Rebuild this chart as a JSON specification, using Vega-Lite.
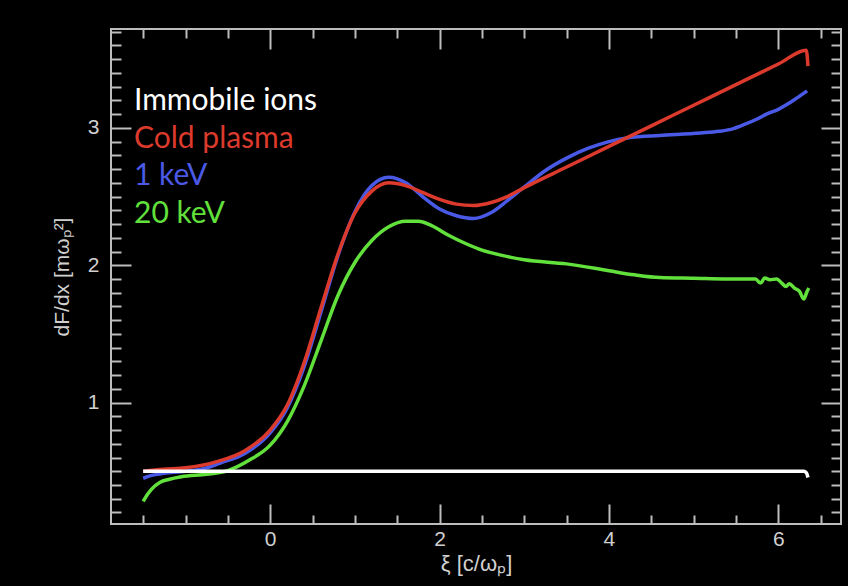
{
  "$schema": "https://vega.github.io/schema/vega-lite/v6.json",
  "width": 730,
  "height": 495,
  "autosize": {"type": "none"},
  "padding": {"left": 111, "top": 29, "right": 7, "bottom": 62},
  "background": "#000000",
  "config": {
    "view": {"stroke": "#bdbdbd", "strokeWidth": 2},
    "axis": {"grid": false, "domain": false, "tickColor": "#bdbdbd", "tickWidth": 2, "labelColor": "#d0d0d0", "titleColor": "#d0d0d0", "labelFont": "Liberation Sans", "titleFont": "Liberation Sans", "titleFontWeight": "normal"}
  },
  "data": {"values": [
    {"series": "20 keV", "x": -1.5, "y": 0.28},
    {"series": "20 keV", "x": -1.45, "y": 0.33},
    {"series": "20 keV", "x": -1.4, "y": 0.37},
    {"series": "20 keV", "x": -1.3, "y": 0.42},
    {"series": "20 keV", "x": -1.2, "y": 0.44},
    {"series": "20 keV", "x": -1.05, "y": 0.46},
    {"series": "20 keV", "x": -0.75, "y": 0.478},
    {"series": "20 keV", "x": -0.5, "y": 0.505},
    {"series": "20 keV", "x": -0.25, "y": 0.58},
    {"series": "20 keV", "x": 0.0, "y": 0.69},
    {"series": "20 keV", "x": 0.2, "y": 0.86},
    {"series": "20 keV", "x": 0.4, "y": 1.12},
    {"series": "20 keV", "x": 0.6, "y": 1.45},
    {"series": "20 keV", "x": 0.8, "y": 1.78},
    {"series": "20 keV", "x": 1.0, "y": 2.02},
    {"series": "20 keV", "x": 1.2, "y": 2.18},
    {"series": "20 keV", "x": 1.4, "y": 2.28},
    {"series": "20 keV", "x": 1.6, "y": 2.32},
    {"series": "20 keV", "x": 1.75, "y": 2.32},
    {"series": "20 keV", "x": 1.9, "y": 2.29},
    {"series": "20 keV", "x": 2.1, "y": 2.22},
    {"series": "20 keV", "x": 2.3, "y": 2.16},
    {"series": "20 keV", "x": 2.5, "y": 2.11},
    {"series": "20 keV", "x": 2.75, "y": 2.07},
    {"series": "20 keV", "x": 3.0, "y": 2.04},
    {"series": "20 keV", "x": 3.5, "y": 2.01},
    {"series": "20 keV", "x": 4.0, "y": 1.96},
    {"series": "20 keV", "x": 4.3, "y": 1.93},
    {"series": "20 keV", "x": 4.6, "y": 1.91},
    {"series": "20 keV", "x": 5.0, "y": 1.905},
    {"series": "20 keV", "x": 5.4, "y": 1.9},
    {"series": "20 keV", "x": 5.73, "y": 1.9},
    {"series": "20 keV", "x": 5.79, "y": 1.87},
    {"series": "20 keV", "x": 5.84, "y": 1.907},
    {"series": "20 keV", "x": 5.9, "y": 1.894},
    {"series": "20 keV", "x": 5.98, "y": 1.9},
    {"series": "20 keV", "x": 6.04, "y": 1.87},
    {"series": "20 keV", "x": 6.09, "y": 1.845},
    {"series": "20 keV", "x": 6.13, "y": 1.865},
    {"series": "20 keV", "x": 6.19, "y": 1.834},
    {"series": "20 keV", "x": 6.25, "y": 1.81},
    {"series": "20 keV", "x": 6.3, "y": 1.754},
    {"series": "20 keV", "x": 6.34, "y": 1.81},
    {"series": "20 keV", "x": 6.36, "y": 1.834},
    {"series": "1 keV", "x": -1.5, "y": 0.449},
    {"series": "1 keV", "x": -1.4, "y": 0.47},
    {"series": "1 keV", "x": -1.26, "y": 0.485},
    {"series": "1 keV", "x": -1.0, "y": 0.5},
    {"series": "1 keV", "x": -0.75, "y": 0.525},
    {"series": "1 keV", "x": -0.59, "y": 0.56},
    {"series": "1 keV", "x": -0.3, "y": 0.63},
    {"series": "1 keV", "x": 0.0, "y": 0.78},
    {"series": "1 keV", "x": 0.2, "y": 0.96},
    {"series": "1 keV", "x": 0.4, "y": 1.26},
    {"series": "1 keV", "x": 0.6, "y": 1.66},
    {"series": "1 keV", "x": 0.8, "y": 2.07},
    {"series": "1 keV", "x": 1.0, "y": 2.39},
    {"series": "1 keV", "x": 1.2, "y": 2.58},
    {"series": "1 keV", "x": 1.4, "y": 2.64},
    {"series": "1 keV", "x": 1.6, "y": 2.6},
    {"series": "1 keV", "x": 1.8, "y": 2.5},
    {"series": "1 keV", "x": 2.0, "y": 2.41},
    {"series": "1 keV", "x": 2.2, "y": 2.36},
    {"series": "1 keV", "x": 2.4, "y": 2.34},
    {"series": "1 keV", "x": 2.6, "y": 2.38},
    {"series": "1 keV", "x": 2.8, "y": 2.47},
    {"series": "1 keV", "x": 3.0, "y": 2.57},
    {"series": "1 keV", "x": 3.25, "y": 2.69},
    {"series": "1 keV", "x": 3.5, "y": 2.78},
    {"series": "1 keV", "x": 3.75, "y": 2.85},
    {"series": "1 keV", "x": 4.0, "y": 2.9},
    {"series": "1 keV", "x": 4.25, "y": 2.93},
    {"series": "1 keV", "x": 4.6, "y": 2.945},
    {"series": "1 keV", "x": 5.08, "y": 2.963},
    {"series": "1 keV", "x": 5.3, "y": 2.975},
    {"series": "1 keV", "x": 5.47, "y": 2.995},
    {"series": "1 keV", "x": 5.6, "y": 3.025},
    {"series": "1 keV", "x": 5.75, "y": 3.065},
    {"series": "1 keV", "x": 5.86, "y": 3.1},
    {"series": "1 keV", "x": 6.0, "y": 3.135},
    {"series": "1 keV", "x": 6.1, "y": 3.17},
    {"series": "1 keV", "x": 6.2, "y": 3.21},
    {"series": "1 keV", "x": 6.34, "y": 3.27},
    {"series": "Cold plasma", "x": -1.5, "y": 0.5},
    {"series": "Cold plasma", "x": -1.26, "y": 0.515},
    {"series": "Cold plasma", "x": -1.0, "y": 0.525},
    {"series": "Cold plasma", "x": -0.63, "y": 0.57},
    {"series": "Cold plasma", "x": -0.3, "y": 0.65},
    {"series": "Cold plasma", "x": 0.0, "y": 0.8},
    {"series": "Cold plasma", "x": 0.2, "y": 0.98},
    {"series": "Cold plasma", "x": 0.4, "y": 1.29},
    {"series": "Cold plasma", "x": 0.6, "y": 1.69},
    {"series": "Cold plasma", "x": 0.8, "y": 2.08},
    {"series": "Cold plasma", "x": 1.0, "y": 2.38},
    {"series": "Cold plasma", "x": 1.2, "y": 2.54},
    {"series": "Cold plasma", "x": 1.4, "y": 2.6},
    {"series": "Cold plasma", "x": 1.6, "y": 2.58},
    {"series": "Cold plasma", "x": 1.8, "y": 2.53},
    {"series": "Cold plasma", "x": 2.0, "y": 2.48},
    {"series": "Cold plasma", "x": 2.2, "y": 2.445},
    {"series": "Cold plasma", "x": 2.4, "y": 2.435},
    {"series": "Cold plasma", "x": 2.6, "y": 2.455},
    {"series": "Cold plasma", "x": 2.8, "y": 2.5},
    {"series": "Cold plasma", "x": 3.0, "y": 2.565},
    {"series": "Cold plasma", "x": 3.5, "y": 2.715},
    {"series": "Cold plasma", "x": 4.0, "y": 2.865},
    {"series": "Cold plasma", "x": 4.5, "y": 3.015},
    {"series": "Cold plasma", "x": 5.0, "y": 3.165},
    {"series": "Cold plasma", "x": 5.5, "y": 3.315},
    {"series": "Cold plasma", "x": 6.0, "y": 3.465},
    {"series": "Cold plasma", "x": 6.33, "y": 3.566},
    {"series": "Cold plasma", "x": 6.35, "y": 3.45},
    {"series": "Immobile ions", "x": -1.5, "y": 0.5},
    {"series": "Immobile ions", "x": 0.0, "y": 0.5},
    {"series": "Immobile ions", "x": 2.0, "y": 0.5},
    {"series": "Immobile ions", "x": 4.0, "y": 0.5},
    {"series": "Immobile ions", "x": 6.3, "y": 0.5},
    {"series": "Immobile ions", "x": 6.33, "y": 0.49},
    {"series": "Immobile ions", "x": 6.35, "y": 0.455}
  ]},
  "layer": [
    {
      "transform": [{"filter": "datum.series === '20 keV'"}],
      "mark": {"type": "line", "strokeWidth": 3.5, "interpolate": "monotone"},
      "encoding": {
        "x": {"field": "x", "type": "quantitative", "scale": {"domain": [-1.88, 6.74], "nice": false, "zero": false},
          "axis": {"orient": "bottom", "values": [0, 2, 4, 6], "format": "d", "tickSize": -20, "labelPadding": 24, "labelFontSize": 21, "title": "ξ [c/ωₚ]", "titleFontSize": 22, "titlePadding": 4}},
        "y": {"field": "y", "type": "quantitative", "scale": {"domain": [0.116, 3.72], "nice": false, "zero": false},
          "axis": {"orient": "left", "values": [1, 2, 3], "format": "d", "tickSize": -20, "labelPadding": 32, "labelFontSize": 21, "title": "dF/dx [mωₚ²]", "titleFontSize": 21, "titlePadding": 15}},
        "color": {"field": "series", "type": "nominal"}
      }
    },
    {
      "transform": [{"filter": "datum.series === '1 keV'"}],
      "mark": {"type": "line", "strokeWidth": 3.5, "interpolate": "monotone"},
      "encoding": {
        "x": {"field": "x", "type": "quantitative",
          "axis": {"orient": "bottom", "values": [-1.5, -1, -0.5, 0.5, 1, 1.5, 2.5, 3, 3.5, 4.5, 5, 5.5, 6.5], "tickSize": -9, "labels": false, "title": null}},
        "y": {"field": "y", "type": "quantitative",
          "axis": {"orient": "left", "values": [0.2, 0.3, 0.4, 0.5, 0.6, 0.7, 0.8, 0.9, 1.1, 1.2, 1.3, 1.4, 1.5, 1.6, 1.7, 1.8, 1.9, 2.1, 2.2, 2.3, 2.4, 2.5, 2.6, 2.7, 2.8, 2.9, 3.1, 3.2, 3.3, 3.4, 3.5, 3.6, 3.7], "tickSize": -10, "labels": false, "title": null}},
        "color": {"field": "series", "type": "nominal"}
      }
    },
    {
      "transform": [{"filter": "datum.series === 'Cold plasma'"}],
      "mark": {"type": "line", "strokeWidth": 3.5, "interpolate": "monotone"},
      "encoding": {
        "x": {"field": "x", "type": "quantitative",
          "axis": {"orient": "top", "values": [0, 2, 4, 6], "tickSize": -20, "labels": false, "title": null}},
        "y": {"field": "y", "type": "quantitative",
          "axis": {"orient": "right", "values": [1, 2, 3], "tickSize": -20, "labels": false, "title": null}},
        "color": {"field": "series", "type": "nominal"}
      }
    },
    {
      "transform": [{"filter": "datum.series === 'Immobile ions'"}],
      "mark": {"type": "line", "strokeWidth": 3.5, "interpolate": "monotone"},
      "encoding": {
        "x": {"field": "x", "type": "quantitative",
          "axis": {"orient": "top", "values": [-1.5, -1, -0.5, 0.5, 1, 1.5, 2.5, 3, 3.5, 4.5, 5, 5.5, 6.5], "tickSize": -9, "labels": false, "title": null}},
        "y": {"field": "y", "type": "quantitative",
          "axis": {"orient": "right", "values": [0.2, 0.3, 0.4, 0.5, 0.6, 0.7, 0.8, 0.9, 1.1, 1.2, 1.3, 1.4, 1.5, 1.6, 1.7, 1.8, 1.9, 2.1, 2.2, 2.3, 2.4, 2.5, 2.6, 2.7, 2.8, 2.9, 3.1, 3.2, 3.3, 3.4, 3.5, 3.6, 3.7], "tickSize": -10, "labels": false, "title": null}},
        "color": {"field": "series", "type": "nominal",
          "scale": {"domain": ["Immobile ions", "Cold plasma", "1 keV", "20 keV"], "range": ["#ffffff", "#dc3a2c", "#4a5ae6", "#62e03c"]},
          "legend": {"orient": "none", "legendX": -7, "legendY": 57, "title": null, "padding": 0, "symbolSize": 0, "symbolOpacity": 0, "symbolStrokeWidth": 0, "labelOffset": 0, "labelFont": "Lato", "labelFontSize": 30, "labelLimit": 400, "rowPadding": 7.5,
            "encode": {"labels": {"update": {"fill": {"signal": "scale('color', datum.value)"}}}}}
        }
      }
    }
  ],
  "resolve": {"axis": {"x": "independent", "y": "independent"}}
}
